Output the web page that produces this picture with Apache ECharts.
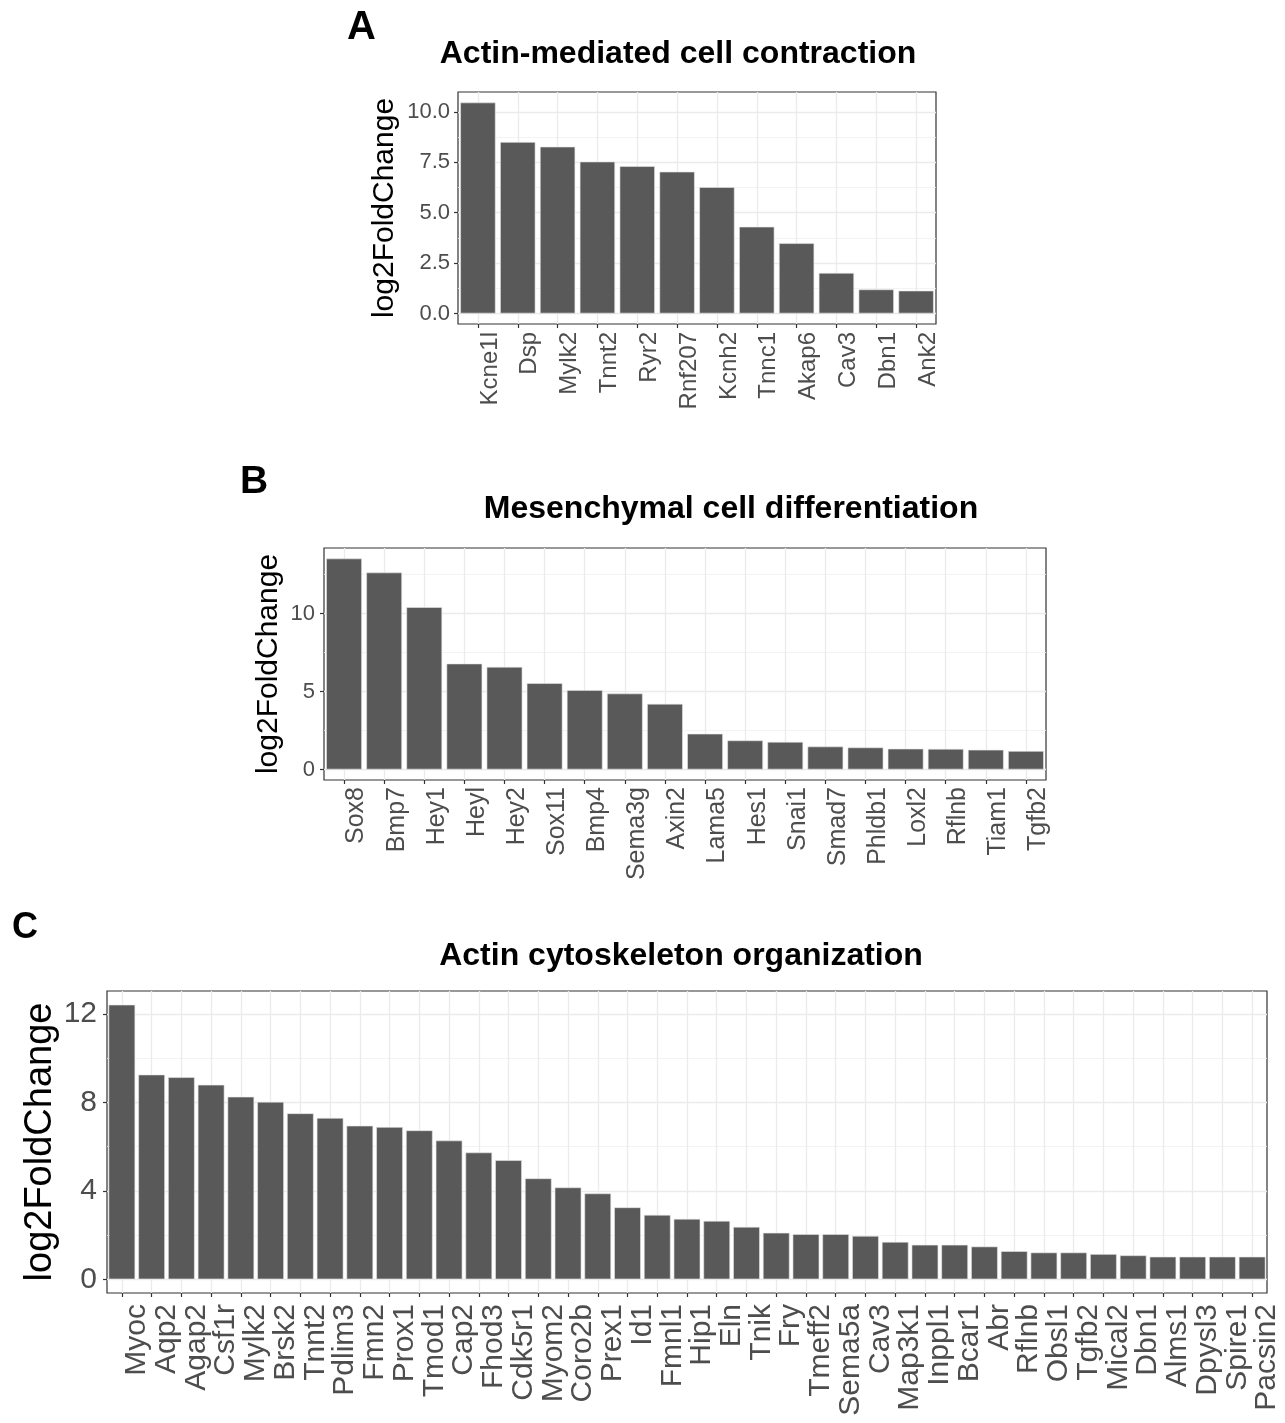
<!DOCTYPE html>
<html>
<head>
<meta charset="utf-8">
<title>log2FoldChange by GO term</title>
<script src="https://cdn.jsdelivr.net/npm/echarts@6/dist/echarts.min.js"></script>
<style>
  html, body { margin: 0; padding: 0; background: #fff; }
  #chart { width: 1285px; height: 1423px; }
</style>
</head>
<body>
<div id="chart"></div>
<script>
var genesA = ['Kcne1l', 'Dsp', 'Mylk2', 'Tnnt2', 'Ryr2', 'Rnf207', 'Kcnh2', 'Tnnc1', 'Akap6', 'Cav3', 'Dbn1', 'Ank2'];
var valuesA = [10.46, 8.50, 8.27, 7.53, 7.30, 7.03, 6.26, 4.30, 3.48, 2.01, 1.19, 1.13];
var ticksA = [0, 2.5, 5, 7.5, 10];
var minorA = [1.25, 3.75, 6.25, 8.75];

var genesB = ['Sox8', 'Bmp7', 'Hey1', 'Heyl', 'Hey2', 'Sox11', 'Bmp4', 'Sema3g', 'Axin2', 'Lama5',
    'Hes1', 'Snai1', 'Smad7', 'Phldb1', 'Loxl2', 'Rflnb', 'Tiam1', 'Tgfb2'];
var valuesB = [13.53, 12.63, 10.41, 6.79, 6.58, 5.53, 5.09, 4.87, 4.21, 2.29,
    1.86, 1.77, 1.47, 1.41, 1.33, 1.32, 1.26, 1.18];
var ticksB = [0, 5, 10];
var minorB = [2.5, 7.5, 12.5];

var genesC = ['Myoc', 'Aqp2', 'Agap2', 'Csf1r', 'Mylk2', 'Brsk2', 'Tnnt2', 'Pdlim3', 'Fmn2', 'Prox1',
    'Tmod1', 'Cap2', 'Fhod3', 'Cdk5r1', 'Myom2', 'Coro2b', 'Prex1', 'Id1', 'Fmnl1', 'Hip1',
    'Eln', 'Tnik', 'Fry', 'Tmeff2', 'Sema5a', 'Cav3', 'Map3k1', 'Inppl1', 'Bcar1', 'Abr',
    'Rflnb', 'Obsl1', 'Tgfb2', 'Mical2', 'Dbn1', 'Alms1', 'Dpysl3', 'Spire1', 'Pacsin2'];
var valuesC = [12.41, 9.25, 9.13, 8.79, 8.25, 8.02, 7.50, 7.29, 6.94, 6.88,
    6.73, 6.27, 5.73, 5.38, 4.56, 4.15, 3.88, 3.25, 2.91, 2.73,
    2.64, 2.37, 2.10, 2.04, 2.04, 1.96, 1.69, 1.56, 1.56, 1.48,
    1.27, 1.21, 1.21, 1.14, 1.08, 1.02, 1.02, 1.02, 1.02];
var ticksC = [0, 4, 8, 12];
var minorC = [2, 6, 10];

var FONT = 'Liberation Sans, Arial, sans-serif';

// one panel = grid + category x + value y (major) + value y (minor grid only)
var panels = [
    { genes: genesA, values: valuesA, ticks: ticksA, minor: minorA, digits: 1,
      grid: { left: 458, top: 92, width: 478, height: 232 },
      tickFont: 22, tickMargin: 8, xFont: 24, nameFont: 30, nameGap: 58, xMargin: 8 },
    { genes: genesB, values: valuesB, ticks: ticksB, minor: minorB, digits: 0,
      grid: { left: 324, top: 548, width: 722, height: 232 },
      tickFont: 22, tickMargin: 9, xFont: 25, nameFont: 30, nameGap: 40, xMargin: 7 },
    { genes: genesC, values: valuesC, ticks: ticksC, minor: minorC, digits: 0,
      grid: { left: 107, top: 991, width: 1160, height: 302 },
      tickFont: 30, tickMargin: 10, xFont: 30, nameFont: 38, nameGap: 47, xMargin: 11 }
];

var grids = [], xAxes = [], yAxes = [], series = [];
panels.forEach(function (p, i) {
    var top = Math.max.apply(null, p.values);
    var lo = -0.05 * top, hi = top * 1.05;
    var n = p.genes.length;
    grids.push({
        left: p.grid.left, top: p.grid.top, width: p.grid.width, height: p.grid.height,
        show: true, borderColor: '#333333', borderWidth: 1.2, backgroundColor: 'transparent'
    });
    xAxes.push({
        type: 'category', gridIndex: i, data: p.genes,
        axisLine: { show: false, onZero: false },
        axisTick: { show: true, alignWithLabel: true, interval: 0, length: 4, lineStyle: { color: '#333333', width: 1.2 } },
        axisLabel: { interval: 0, rotate: 90, verticalAlign: 'top', margin: p.xMargin,
            color: '#4d4d4d', fontSize: p.xFont, fontFamily: FONT },
        splitLine: { show: true, interval: 0, alignWithLabel: true, lineStyle: { color: '#ebebeb', width: 1.3 } }
    });
    yAxes.push({
        type: 'value', gridIndex: i, min: lo, max: hi,
        name: 'log2FoldChange', nameLocation: 'middle', nameGap: p.nameGap, nameMoveOverlap: false,
        nameTextStyle: { color: '#000', fontSize: p.nameFont, fontFamily: FONT },
        axisLine: { show: false },
        axisTick: { show: true, length: 4, customValues: p.ticks, lineStyle: { color: '#333333', width: 1.2 } },
        axisLabel: { customValues: p.ticks, margin: p.tickMargin, color: '#4d4d4d', fontSize: p.tickFont, fontFamily: FONT,
            formatter: function (v) { return v.toFixed(p.digits); } },
        splitLine: { show: true, lineStyle: { color: '#ebebeb', width: 1.3 } }
    });
    yAxes.push({
        type: 'value', gridIndex: i, min: lo, max: hi, position: 'left',
        axisLine: { show: false },
        axisTick: { show: false, customValues: p.minor },
        axisLabel: { show: false },
        splitLine: { show: true, lineStyle: { color: '#f0f0f0', width: 0.8 } }
    });
    series.push({
        type: 'bar', xAxisIndex: i, yAxisIndex: 2 * i, data: p.values,
        barWidth: (90 * n / (n + 0.2)).toFixed(1) + '%',
        itemStyle: { color: '#595959', borderColor: '#e6e6e6', borderWidth: 0.6 },
        silent: true, animation: false
    });
});

function label(text, x, y, size, align) {
    return { type: 'text', x: x, y: y, silent: true,
        style: { text: text, fill: '#000', font: 'bold ' + size + 'px ' + FONT,
            textAlign: align, textVerticalAlign: 'middle' } };
}

var myChart = echarts.init(document.getElementById('chart'));
option = {
    animation: false,
    grid: grids,
    xAxis: xAxes,
    yAxis: yAxes,
    series: series,
    graphic: [
        label('A', 347, 28, 40, 'left'),
        label('Actin-mediated cell contraction', 678, 54, 32, 'center'),
        label('B', 240, 482, 39, 'left'),
        label('Mesenchymal cell differentiation', 731, 509, 32, 'center'),
        label('C', 12, 928, 36, 'left'),
        label('Actin cytoskeleton organization', 681, 956, 32, 'center')
    ]
};
myChart.setOption(option);

window.onresize = function () {
    myChart.resize();
};
</script>
</body>
</html>
